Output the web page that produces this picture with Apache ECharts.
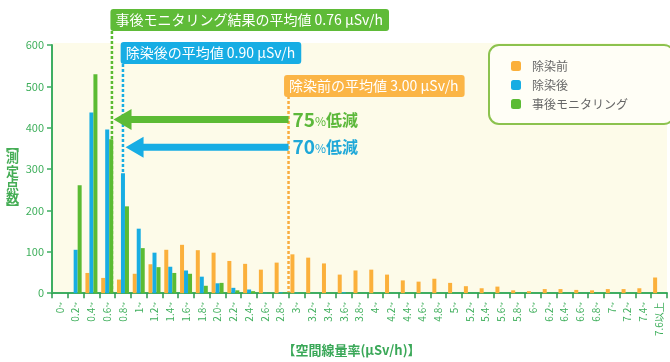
<!DOCTYPE html>
<html><head><meta charset="utf-8">
<script src="https://cdn.jsdelivr.net/npm/echarts@6/dist/echarts.min.js"></script>
<style>html,body{margin:0;padding:0;background:#fff}#c{width:670px;height:362px}</style>
</head><body><div id="c"></div>
<script>
const categories = ['0~','0.2~','0.4~','0.6~','0.8~','1~','1.2~','1.4~','1.6~','1.8~','2.0~','2.2~','2.4~','2.6~','2.8~','3~','3.2~','3.4~','3.6~','3.8~','4~','4.2~','4.4~','4.6~','4.8~','5~','5.2~','5.4~','5.6~','5.8~','6~','6.2~','6.4~','6.6~','6.8~','7~','7.2~','7.4~','7.6以上'];
const beforeValues = [0,0,49,37,33,47,70,105,117,104,98,78,71,57,74,94,86,72,45,55,57,45,31,28,35,25,17,12,16,7,5,10,10,8,7,10,10,12,38];
const afterValues = [0,105,437,396,290,156,98,64,55,40,24,13,9,1,2,1,0,0,2,0,0,0,0,0,0,0,0,0,0,0,0,0,0,0,0,0,0,0,0];
const monitoringValues = [0,261,529,372,210,109,63,49,47,18,25,7,5,0,1,0,0,0,0,0,0,0,0,0,0,0,0,0,0,0,0,0,0,0,0,0,0,0,0];
const seriesNames = ['除染前','除染後','事後モニタリング'];
const yMin = 0, yMax = 600, yInterval = 100;
const doseMin = 0, doseMax = 7.8;
const meanMonitoring = 0.76, meanAfter = 0.90, meanBefore = 3.00;
const arrowLevelMonitoring = 420, arrowLevelAfter = 353;
const meanLabels = ['事後モニタリング結果の平均値 0.76 μSv/h','除染後の平均値 0.90 μSv/h','除染前の平均値 3.00 μSv/h'];
const reductionMonitoring = '75', reductionAfter = '70';
const yAxisTitleChars = ['︻','測','定','点','数','︼'];

const FONT = '"Noto Sans CJK JP","Noto Sans",sans-serif';
const ORANGE = '#fbb03b', BLUE = '#18ade3', GREEN = '#5bbb33';
const AXIS = '#3fae62', TICK = '#2a9a4c', LABEL = '#3faf5c';

const chart = echarts.init(document.getElementById('c'));
chart.setOption({
  animation: false,
  textStyle: {fontFamily: FONT},
  grid: {left: 52, right: 3, top: 45, bottom: 64},
  legend: {
    data: seriesNames, orient: 'vertical', left: 489, top: 45,
    padding: [15, 46, 14, 22], itemGap: 7, itemWidth: 10, itemHeight: 10,
    icon: 'roundRect',
    backgroundColor: '#fffef6', borderColor: '#8cc24e', borderWidth: 2, borderRadius: 10,
    textStyle: {fontFamily: FONT, fontSize: 12, color: '#666', padding: [0,0,0,6]}
  },
  xAxis: [{
    type: 'category', data: categories, boundaryGap: true,
    axisLine: {lineStyle: {color: AXIS, width: 2}},
    axisTick: {show: true, interval: 0, length: 5, lineStyle: {color: TICK, width: 1.5}},
    axisLabel: {interval: 0, rotate: 90, fontSize: 10, color: LABEL, margin: 9, fontFamily: FONT},
    name: '【空間線量率(μSv/h)】', nameLocation: 'middle', nameGap: 48,
    nameTextStyle: {fontFamily: FONT, fontSize: 13, color: '#3aa858', fontWeight: 'bold', padding: [0, 16, 0, 0]}
  }, {
    type: 'value', min: doseMin, max: doseMax, show: false
  }],
  yAxis: {
    type: 'value', min: yMin, max: yMax, interval: yInterval,
    axisLine: {show: true, lineStyle: {color: AXIS, width: 2}},
    axisTick: {show: true, length: 5, lineStyle: {color: AXIS, width: 1.5}},
    splitLine: {show: false},
    axisLabel: {fontSize: 11, color: LABEL, margin: 8, fontFamily: FONT}
  },
  series: [
    {name: seriesNames[0], type: 'bar', data: beforeValues, barWidth: 4, barGap: '0%', itemStyle: {color: ORANGE}, z: 3},
    {name: seriesNames[1], type: 'bar', data: afterValues, barWidth: 4, barGap: '0%', itemStyle: {color: BLUE}, z: 3},
    {name: seriesNames[2], type: 'bar', data: monitoringValues, barWidth: 4, barGap: '0%', itemStyle: {color: GREEN}, z: 3}
  ]
});

function px(x, y) { return chart.convertToPixel({xAxisIndex: 1, yAxisIndex: 0}, [x, y]); }
const origin = px(doseMin, yMin), topRight = px(doseMax, yMax);
const gx = px(meanMonitoring, 0)[0], bx = px(meanAfter, 0)[0], ox = px(meanBefore, 0)[0];
const yAxisBase = origin[1];
const gArrowY = px(0, arrowLevelMonitoring)[1], bArrowY = px(0, arrowLevelAfter)[1];

function dotted(x, y1, color) {
  return {type: 'line', z: 1, shape: {x1: x, y1: y1, x2: x, y2: yAxisBase - 1},
    style: {stroke: color, lineWidth: 2.5, lineDash: [3, 2]}};
}
function box(x, y, text, bg) {
  return {type: 'text', z: 20, x: x, y: y,
    style: {text: text, font: '14px ' + FONT, fill: '#fff', backgroundColor: bg,
      padding: [4, 6, 4, 5], borderRadius: 3, lineHeight: 14, verticalAlign: 'top', align: 'left'}};
}
function arrow(tailX, tipX, y, color) {
  const h = 18, w = 3.5, hw = 10.5;
  return {type: 'polygon', z: 15, shape: {points: [
    [tailX, y - w], [tipX + h, y - w], [tipX + h, y - hw], [tipX, y],
    [tipX + h, y + hw], [tipX + h, y + w], [tailX, y + w]]}, style: {fill: color}};
}
function pct(x, y, num, color) {
  return {type: 'text', z: 20, x: x, y: y, style: {
    text: '{n|' + num + '}{p|%}{k|低減}', fill: color, verticalAlign: 'middle', align: 'left',
    rich: {
      n: {fontSize: 19, fontWeight: 'bold', fill: color, fontFamily: FONT},
      p: {fontSize: 12, fill: color, fontFamily: FONT, padding: [3, 0, 0, 0]},
      k: {fontSize: 16, fontWeight: 'bold', fill: color, fontFamily: FONT}
    }}};
}
const titleY = [145, 157.5, 171, 184, 197.5, 208];
const titleEls = yAxisTitleChars.map((ch, i) => ({
  type: 'text', z: 20, x: 12.5, y: titleY[i],
  style: {text: ch, font: 'bold 13px ' + FONT, fill: '#45ad55', align: 'center', verticalAlign: 'middle'}
}));

chart.setOption({graphic: [
  {type: 'rect', z: -10, silent: true, shape: {x: origin[0] + 1, y: topRight[1] - 2, width: topRight[0] - origin[0] - 1, height: origin[1] - topRight[1] + 2}, style: {fill: '#fdfbe9'}},
  dotted(gx, 31, GREEN), dotted(bx, 64, BLUE), dotted(ox, 96, '#f9ad3e'),
  box(gx - 1.5, 9, meanLabels[0], '#5fbb38'),
  box(bx - 2.3, 42, meanLabels[1], '#17ade4'),
  box(ox - 4.5, 75, meanLabels[2], '#fbb546'),
  arrow(ox, gx + 1.6, gArrowY, '#5cbb35'),
  arrow(ox, bx + 2.6, bArrowY, '#17ade4'),
  pct(ox + 4, gArrowY, reductionMonitoring, '#5cb83a'),
  pct(ox + 4, bArrowY, reductionAfter, '#1fa8d8')
].concat(titleEls)});
</script></body></html>
